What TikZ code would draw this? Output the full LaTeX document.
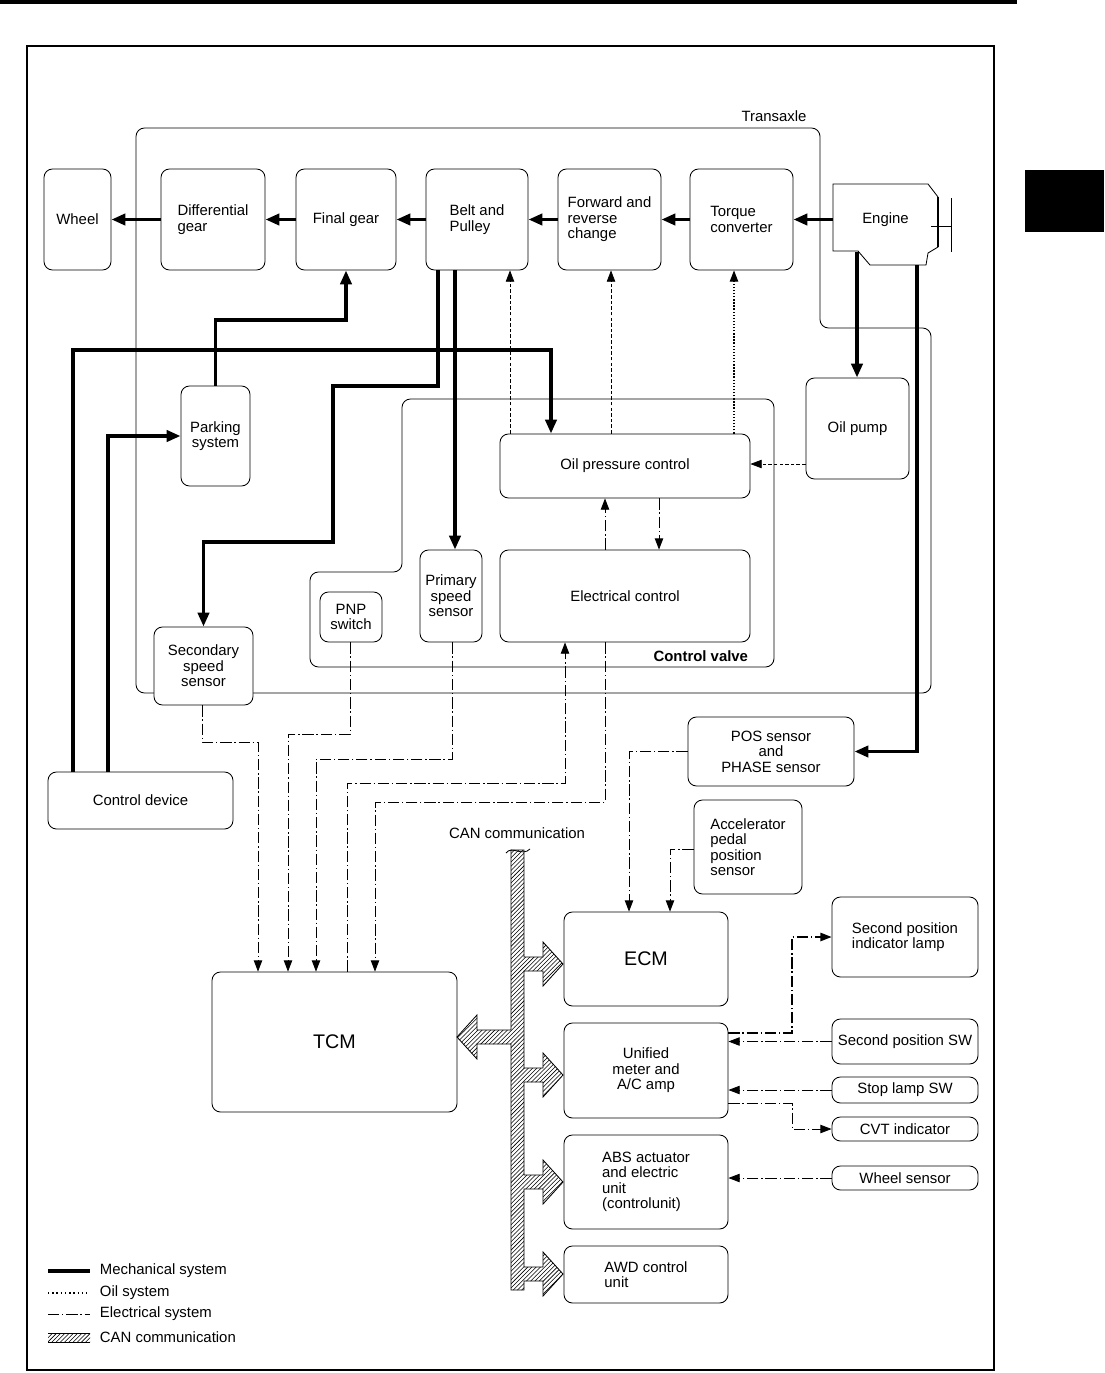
\documentclass[tikz,border=0pt]{standalone}
\usepackage{fontspec}
\setmainfont{Liberation Sans}
\usetikzlibrary{arrows.meta,patterns}

\tikzset{
  box/.style 2 args={draw, fill=white, rounded corners=6pt, line width=0.6pt,
    inner sep=1pt, align=center, minimum width=#1*0.025cm, minimum height=#2*0.025cm},
  mech/.style={line width=2.8pt, -{Triangle[length=10pt,width=8pt]}},
  oil/.style={line width=0.5pt, dash pattern=on 2.5pt off 1.5pt, -{Triangle[length=8pt,width=6pt]}},
  oildot/.style={line width=0.8pt, dash pattern=on 1pt off 1.2pt, -{Triangle[length=8pt,width=6pt]}},
  elec/.style={line width=0.6pt, dash pattern=on 8pt off 2pt on 1pt off 2pt, -{Triangle[length=8pt,width=6pt]}},
  can/.style={draw, line width=0.6pt, pattern=north east lines},
}

\begin{document}
\begin{tikzpicture}[x=0.025cm, y=-0.025cm, font=\fontsize{10.6}{11}\selectfont]
\useasboundingbox (0,0) rectangle (1104,1373);

% page marks and frame
\fill (0,0) rectangle (1017,4);
\fill (1025,170) rectangle (1104,232);
\draw[line width=1.5pt] (27,46) rectangle (994,1370);

% transaxle and control valve outlines
\draw[line width=0.6pt, rounded corners=6pt]
  (136,400) -- (136,128) -- (820,128) -- (820,328) -- (931,328) -- (931,693) -- (136,693) -- cycle;
\node at (774,116) {Transaxle};
\draw[line width=0.6pt, rounded corners=6pt]
  (500,399) -- (774,399) -- (774,667) -- (310,667) -- (310,572) -- (402,572) -- (402,399) -- cycle;
\node[font=\fontsize{10.6}{11}\selectfont\bfseries, anchor=east] at (753,656) {Control valve};

% engine
\draw[line width=0.6pt] (833,184) -- (928,184) -- (938,197) -- (938,247) -- (928,253)
  -- (926,265) -- (870,265) -- (858,251) -- (833,251) -- cycle;
\draw[line width=1.6pt] (938,197) -- (938,247);
\draw[line width=0.5pt] (951,198) -- (951,252) (931,226) -- (951,226);
\node[minimum width=105*0.025cm, minimum height=60*0.025cm] (engine) at (885.5,219.5) {Engine};
\coordinate (eng-a) at (857,252);
\coordinate (eng-b) at (917,265);

% drive line
\node[box={67}{101}] (wheel) at (77.5,219.5) {Wheel};
\node[box={104}{101}, align=left] (diff) at (213,219.5) {Differential\\gear};
\node[box={100}{101}] (fg) at (346,219.5) {Final gear};
\node[box={102}{101}, align=left] (belt) at (477,219.5) {Belt and\\Pulley};
\node[box={103}{101}, align=left] (fwd) at (609.5,219.5) {Forward and\\reverse\\change};
\node[box={103}{101}, align=left] (tq) at (741.5,219.5) {Torque\\converter};

% transaxle parts
\node[box={69}{100}] (park) at (215.5,436) {Parking\\system};
\node[box={250}{64}] (opc) at (625,466) {Oil pressure control};
\node[box={250}{92}] (elec) at (625,596) {Electrical control};
\node[box={103}{101}] (oilpump) at (857.5,428.5) {Oil pump};
\node[box={62}{92}] (prim) at (451,596) {Primary\\speed\\sensor};
\node[box={62}{50}] (pnp) at (351,617) {PNP\\switch};
\node[box={99}{78}] (sec) at (203.5,666) {Secondary\\speed\\sensor};
\node[box={185}{57}] (ctrl) at (140.5,800.5) {Control device};

% control units
\node[box={166}{69}] (pos) at (771,751.5) {POS sensor\\and\\PHASE sensor};
\node[box={108}{94}, align=left] (acc) at (748,847) {Accelerator\\pedal\\position\\sensor};
\node[box={245}{140}, font=\fontsize{14}{16}\selectfont] (tcm) at (334.5,1042) {TCM};
\node[box={164}{94}, font=\fontsize{14}{16}\selectfont] (ecm) at (646,959) {ECM};
\node[box={164}{95}] (meter) at (646,1070.5) {Unified\\meter and\\A/C amp};
\node[box={164}{94}, align=left] (abs) at (646,1182) {ABS actuator\\and electric\\unit\\(controlunit)};
\node[box={164}{57}, align=left] (awd) at (646,1274.5) {AWD control\\unit};
\node[box={146}{80}, align=left] (lamp) at (905,937) {Second position\\indicator lamp};
\node[box={146}{45}] (secsw) at (905,1041.5) {Second position SW};
\node[box={146}{26}] (stopsw) at (905,1090) {Stop lamp SW};
\node[box={146}{24}] (cvt) at (905,1129) {CVT indicator};
\node[box={146}{24}] (whs) at (905,1178) {Wheel sensor};

% mechanical system
\foreach \a/\b in {engine/tq, tq/fwd, fwd/belt, belt/fg, fg/diff, diff/wheel}
  \draw[mech] (\a.west) -- (\b.east);
\draw[mech] (park.north) |- (346,320) -- (fg.south);
\draw[mech] (ctrl.north -| 73,0) |- (551,350) -- (opc.north -| 551,0);
\draw[mech] (ctrl.north -| 108,0) |- (park.west);
\draw[mech] (belt.south -| 438,0) |- (333,386) |- (203.5,542) -- (sec.north);
\draw[mech] (belt.south -| 455,0) -- (prim.north -| 455,0);
\draw[mech] (eng-a) -- (oilpump.north -| eng-a);
\draw[mech] (eng-b) |- (pos.east);

% oil system
\draw[oil] (oilpump.west |- 0,464) -- (opc.east |- 0,464);
\draw[oil] (opc.north -| 510,0) -- (belt.south -| 510,0);
\draw[oil] (opc.north -| 611,0) -- (fwd.south -| 611,0);
\draw[oildot] (opc.north -| 734,0) -- (tq.south -| 734,0);

% electrical system
\draw[elec] (elec.north -| 605,0) -- (opc.south -| 605,0);
\draw[elec] (opc.south -| 659,0) -- (elec.north -| 659,0);
\draw[elec] (sec.south -| 202,0) |- (258,742) -- (tcm.north -| 258,0);
\draw[elec] (pnp.south -| 350,0) |- (288,734) -- (tcm.north -| 288,0);
\draw[elec] (prim.south -| 452,0) |- (316,759) -- (tcm.north -| 316,0);
\draw[elec] (tcm.north -| 347,0) |- (565,783) -- (elec.south -| 565,0);
\draw[elec] (elec.south -| 605,0) |- (375,802) -- (tcm.north -| 375,0);
\draw[elec] (pos.west) -| (ecm.north -| 629,0);
\draw[elec] (acc.west |- 0,849) -| (ecm.north -| 670,0);
\foreach \s/\t in {secsw/meter, stopsw/meter, whs/abs}
  \draw[elec] (\s.west) -- (\t.east |- \s.west);
\draw[elec, line width=1pt] (meter.east |- 0,1033) -| (792,937) -- (lamp.west);
\draw[elec] (meter.east |- 0,1103) -| (792,1129) -- (cvt.west);

% CAN communication
\node at (517,833) {CAN communication};
\path[can] (511,850) -- (524,850)
  -- (524,957) -- (543,957) -- (543,942) -- (563,964) -- (543,986) -- (543,971) -- (524,971)
  -- (524,1068) -- (543,1068) -- (543,1053) -- (563,1075) -- (543,1097) -- (543,1082) -- (524,1082)
  -- (524,1175) -- (543,1175) -- (543,1160) -- (563,1182) -- (543,1204) -- (543,1189) -- (524,1189)
  -- (524,1267) -- (543,1267) -- (543,1252) -- (563,1274) -- (543,1296) -- (543,1281) -- (524,1281)
  -- (524,1290) -- (511,1290)
  -- (511,1044) -- (477,1044) -- (477,1059) -- (457,1037) -- (477,1015) -- (477,1030) -- (511,1030)
  -- cycle;
\draw[line width=0.6pt] (506,853) .. controls (512,845) and (522,857) .. (530,849);

% legend
\draw[line width=2.8pt] (48,1271) -- (90,1271);
\draw[line width=0.8pt, dash pattern=on 1pt off 2pt] (48,1293) -- (90,1293);
\draw[line width=0.6pt, dash pattern=on 8pt off 2pt on 1pt off 2pt] (48,1314) -- (90,1314);
\fill[pattern=north east lines] (48,1333) rectangle (90,1342);
\draw[line width=0.5pt] (48,1333) -- (90,1333) (48,1342) -- (90,1342);
\foreach \y/\t in {1271/Mechanical system, 1293/Oil system, 1314/Electrical system, 1337/CAN communication}
  \node[anchor=west] at (95,\y) {\t};
\end{tikzpicture}
\end{document}
